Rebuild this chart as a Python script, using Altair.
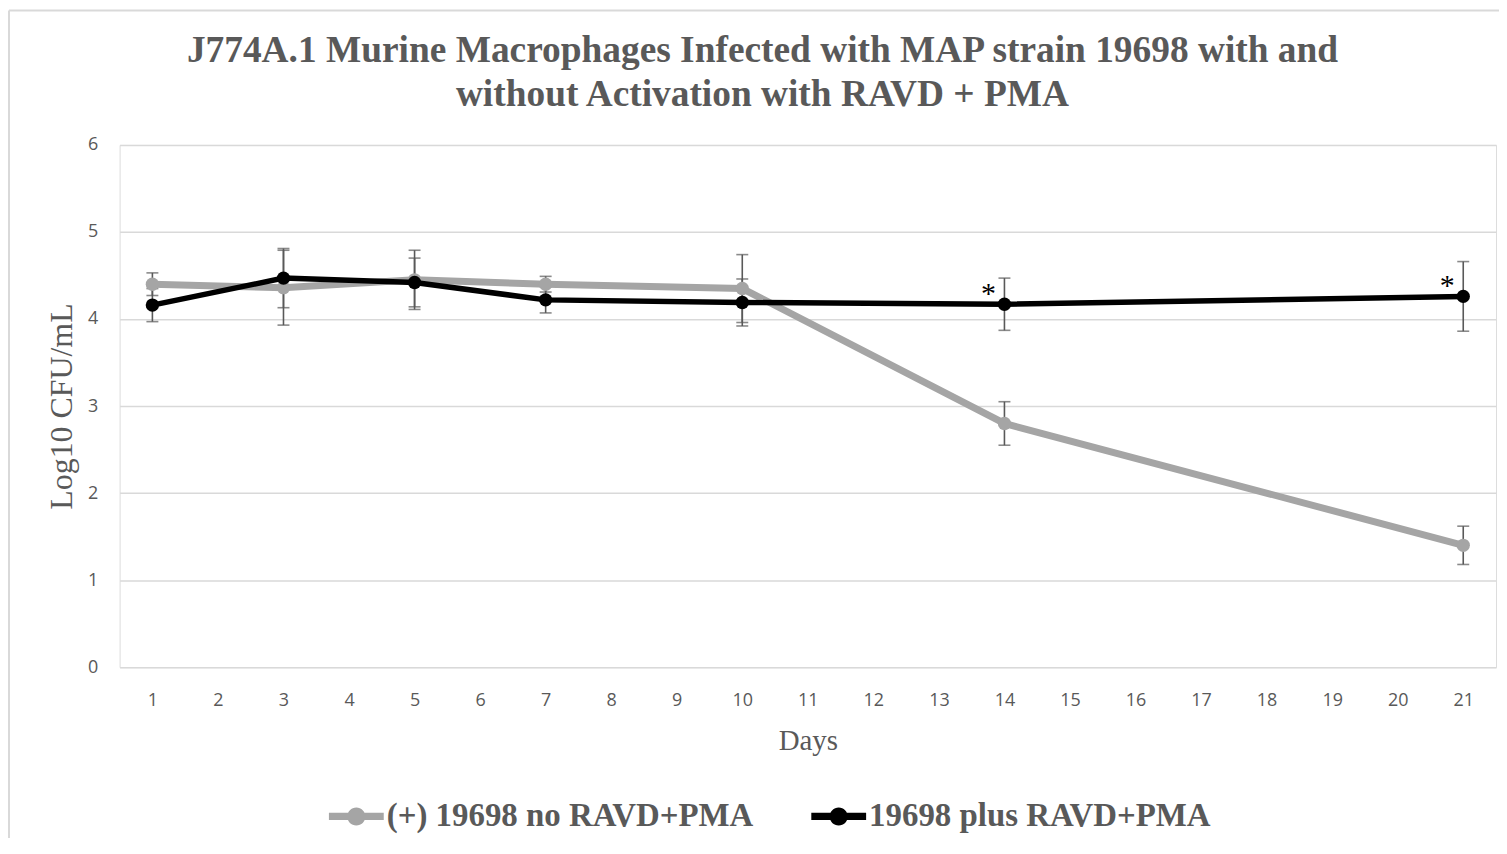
import altair as alt
import pandas as pd

days = [1, 3, 5, 7, 10, 14, 21]
series_names = ["(+) 19698 no RAVD+PMA", "19698 plus RAVD+PMA"]
gray_mean = [4.40, 4.36, 4.45, 4.40, 4.35, 2.80, 1.40]
gray_err = [0.13, 0.43, 0.34, 0.09, 0.39, 0.25, 0.22]
black_mean = [4.16, 4.47, 4.42, 4.22, 4.19, 4.17, 4.26]
black_err = [0.19, 0.34, 0.28, 0.15, 0.27, 0.30, 0.40]
star_days = [14, 21]
star_vals = [4.17, 4.26]
x_ticks = list(range(1, 22))
y_ticks = [0, 1, 2, 3, 4, 5, 6]
title_lines = ["J774A.1 Murine Macrophages Infected with MAP strain 19698 with and",
               "without Activation with RAVD + PMA"]

rows = []
for d, m, e in zip(days, gray_mean, gray_err):
    rows.append({"day": d, "series": series_names[0], "mean": m, "lo": m - e, "hi": m + e, "ord": 0})
for d, m, e in zip(days, black_mean, black_err):
    rows.append({"day": d, "series": series_names[1], "mean": m, "lo": m - e, "hi": m + e, "ord": 1})
df = pd.DataFrame(rows)
stars = pd.DataFrame({"day": star_days, "mean": star_vals, "t": ["*", "*"]})
one = pd.DataFrame({"a": [0]})

TXT = "#595959"
W, H = 1381, 524
xs = alt.Scale(domain=[0.5, 21.5], nice=False, zero=False)
ys = alt.Scale(domain=[0, 6], nice=False)
x_enc = alt.X("day:Q", scale=xs, title="Days",
              axis=alt.Axis(values=x_ticks, grid=False, domain=False, ticks=False,
                            labelFont="Open Sans", labelFontSize=18, labelColor=TXT,
                            labelPadding=24, titleFont="Liberation Serif", titleFontSize=29,
                            titleFontWeight="normal", titleColor=TXT, titlePadding=18,
                            format="d"))
y_enc = alt.Y("mean:Q", scale=ys, title="Log10 CFU/mL",
              axis=alt.Axis(values=y_ticks, grid=True, gridColor="#D9D9D9", gridWidth=1.5,
                            domain=False, ticks=False, labelFont="Open Sans", labelFontSize=18,
                            labelColor=TXT, labelPadding=22, titleFont="Liberation Serif",
                            titleFontSize=32, titleFontWeight="normal", titleColor=TXT,
                            titlePadding=9, format="d"))
color = alt.Color("series:N", scale=alt.Scale(domain=series_names, range=["#A5A5A5", "#000000"]),
                  legend=alt.Legend(title=None, orient="none", direction="horizontal",
                                    legendX=210, legendY=646,
                                    symbolType="M-1,-0.13 H-0.3 V0.13 H-1 Z M0.3,-0.13 H1 V0.13 H0.3 Z M-0.33,0 A0.33,0.33 0 1,1 0.33,0 A0.33,0.33 0 1,1 -0.33,0 Z",
                                    symbolSize=3025, symbolStrokeWidth=0, symbolOpacity=1,
                                    labelFont="Liberation Serif", labelFontSize=33,
                                    labelFontWeight="bold", labelColor=TXT, labelLimit=600,
                                    labelOffset=3, columnPadding=58, symbolOffset=0))

base = alt.Chart(df)

legend_pts = base.mark_point(filled=True, opacity=1).encode(x=x_enc, y=y_enc, color=color)

err_rule = base.mark_rule(color="#595959", strokeWidth=1.6).encode(
    x=alt.X("day:Q", scale=xs), y=alt.Y("lo:Q", scale=ys), y2="hi:Q")
cap_lo = base.mark_tick(color="#595959", thickness=1.6, size=12, orient="horizontal").encode(
    x=alt.X("day:Q", scale=xs), y=alt.Y("lo:Q", scale=ys))
cap_hi = base.mark_tick(color="#595959", thickness=1.6, size=12, orient="horizontal").encode(
    x=alt.X("day:Q", scale=xs), y=alt.Y("hi:Q", scale=ys))

dg = df[df["ord"] == 0]
db = df[df["ord"] == 1]
line_g = alt.Chart(dg).mark_line(strokeWidth=7, color="#A5A5A5").encode(x=x_enc, y=y_enc)
pts_g = alt.Chart(dg).mark_point(filled=True, size=180, opacity=1, color="#A5A5A5").encode(
    x=x_enc, y=y_enc)
line_b = alt.Chart(db).mark_line(strokeWidth=5.5, color="#000000").encode(x=x_enc, y=y_enc)
pts_b = alt.Chart(db).mark_point(filled=True, size=180, opacity=1, color="#000000").encode(
    x=x_enc, y=y_enc)

star = alt.Chart(stars).mark_text(text="*", font="Liberation Serif", fontSize=30,
                                  color="#000000", dx=-16, dy=-10, baseline="middle").encode(
    x=alt.X("day:Q", scale=xs), y=alt.Y("mean:Q", scale=ys))

title1 = alt.Chart(one).mark_text(text=title_lines[0], font="Liberation Serif", fontSize=37.5,
                                  fontWeight="bold", color=TXT, align="center",
                                  baseline="alphabetic").encode(
    x=alt.value(645), y=alt.value(-83))
title2 = alt.Chart(one).mark_text(text=title_lines[1], font="Liberation Serif", fontSize=37.5,
                                  fontWeight="bold", color=TXT, align="center",
                                  baseline="alphabetic").encode(
    x=alt.value(645), y=alt.value(-39))

frame = alt.Chart(one).mark_rule(color="#D9D9D9", strokeWidth=2).encode(
    x=alt.value(-111), x2=alt.value(1384), y=alt.value(-135))
frame_l = alt.Chart(one).mark_rule(color="#D9D9D9", strokeWidth=2).encode(
    x=alt.value(-111), y=alt.value(-135), y2=alt.value(700))

chart = alt.layer(frame, frame_l, legend_pts, err_rule, cap_lo, cap_hi, line_g, pts_g,
                  line_b, pts_b, star, title1, title2).properties(
    width=W, height=H,
    autosize=alt.AutoSizeParams(type="none"),
    padding={"left": 112, "top": 136, "right": 3, "bottom": 170},
).configure_view(stroke=None).configure(background="white")

chart.save("out.html", embed_options={"renderer": "svg", "actions": False})
